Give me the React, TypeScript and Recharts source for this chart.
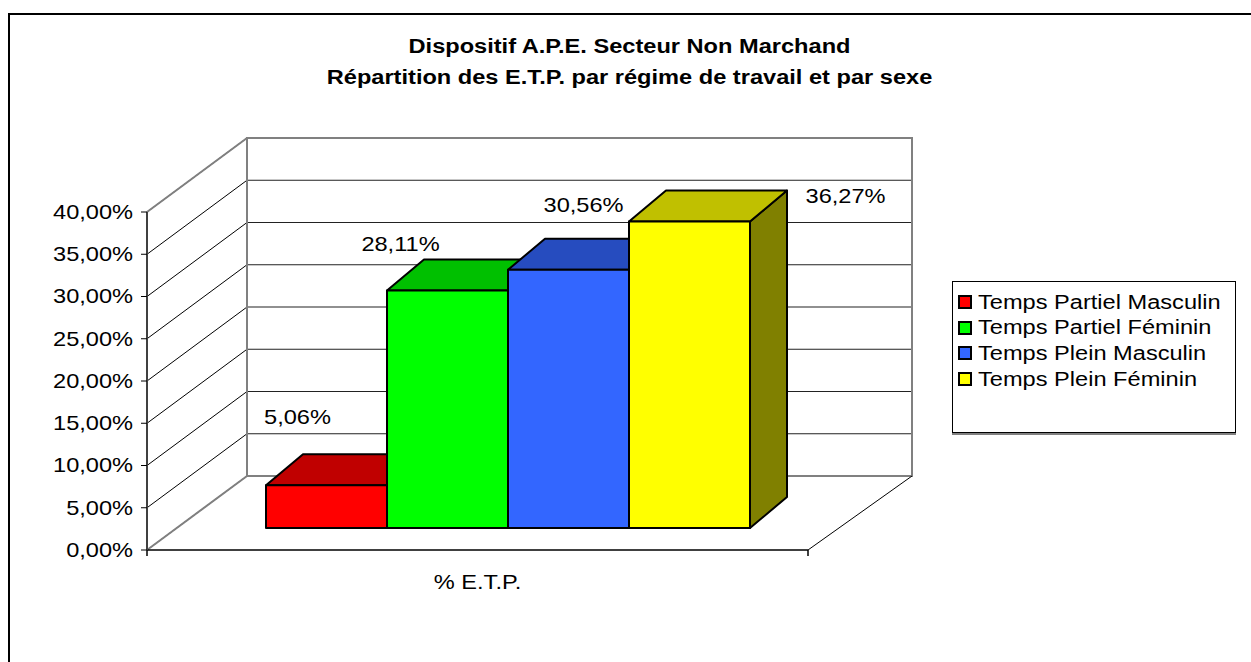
import React from 'react';
import { BarChart, Bar, XAxis, YAxis, CartesianGrid, ReferenceArea, LabelList } from 'recharts';

// data
const categories = ['% E.T.P.'];
const seriesKeys = ['tpm', 'tpf', 'tplm', 'tplf'];
const seriesNames = ['Temps Partiel Masculin', 'Temps Partiel Féminin', 'Temps Plein Masculin', 'Temps Plein Féminin'];
const seriesValues = [5.06, 28.11, 30.56, 36.27];
const yTicks = [0, 5, 10, 15, 20, 25, 30, 35, 40];

// styles
const frontColors = ['#FF0000', '#00FF00', '#3366FF', '#FFFF00'];
const topColors = ['#C00000', '#00C000', '#264CBF', '#C0C000'];
const sideColors = ['#800000', '#008000', '#1A3380', '#808000'];
// where Excel put the value labels, relative to the top centre of each bar's front face
const labelOffsets = [[-29, -68], [-47, -46], [15, -65], [156, -25]];

const FONT = '"Liberation Sans", Arial, sans-serif';
const FS = 20;
const SX = 1.18; // the original text is stretched horizontally
const WALL_DX = 100; // depth of the side wall
const WALL_DY = 74;
const WALL_EXTRA = 4;
const BAR_OX = 30; // bars stand a bit inside the floor
const BAR_OY = 22;
const BAR_DX = 37; // depth of the bar boxes
const BAR_DY = 31;

const data = categories.map((name) => {
  const row: Record<string, string | number> = { name };
  seriesKeys.forEach((k, i) => (row[k] = seriesValues[i]));
  return row;
});

const pct = (v: number) => v.toFixed(2).replace('.', ',') + '%';

function SText({ x, y, anchor, children, weight }: any) {
  return (
    <text
      transform={`translate(${x} ${y}) scale(${SX} 1)`}
      textAnchor={anchor}
      dominantBaseline="central"
      fontFamily={FONT}
      fontSize={FS}
      fontWeight={weight || 'normal'}
      fill="#000"
    >
      {children}
    </text>
  );
}

const YTick = (p: any) => (
  <SText x={p.x} y={p.y} anchor="end">{pct(p.payload.value)}</SText>
);

const XTick = (p: any) => (
  <SText x={p.x} y={p.y + 24} anchor="middle">{p.payload.value}</SText>
);

// side wall diagonals + back wall grid lines, one per y tick
const gridLine = (p: any) => {
  const { x1, y1, x2 } = p;
  return (
    <g key={p.key}>
      <line x1={x1} y1={y1} x2={x1 + WALL_DX} y2={y1 - WALL_DY} stroke="#000" strokeWidth={1} />
      <line x1={x1 + WALL_DX} y1={y1 - WALL_DY} x2={x2 + WALL_DX + WALL_EXTRA} y2={y1 - WALL_DY} stroke="#222" strokeWidth={1.2} />
    </g>
  );
};

// wall outlines and floor, from the plot rectangle
const Walls = (p: any) => {
  const { x, y, width: w, height: h } = p;
  const bx = x + WALL_DX;
  const by = y - WALL_DY;
  const bw = w + WALL_EXTRA;
  return (
    <g>
      <line x1={x} y1={y} x2={bx} y2={by} stroke="#808080" strokeWidth={2} />
      <line x1={x} y1={y + h} x2={bx} y2={by + h} stroke="#808080" strokeWidth={2} />
      <rect x={bx} y={by} width={bw} height={h} fill="none" stroke="#808080" strokeWidth={2} />
      <line x1={x + w} y1={y + h} x2={bx + bw} y2={by + h} stroke="#000" strokeWidth={1} />
      <line x1={x} y1={y + h} x2={x} y2={y + h + 6} stroke="#404040" strokeWidth={2} />
      <line x1={x + w} y1={y + h} x2={x + w} y2={y + h + 6} stroke="#000" strokeWidth={1.5} />
    </g>
  );
};

function makeBox(i: number) {
  return (p: any) => {
    const { x, y, width: w, height: h } = p;
    if (w == null || h == null) return <g />;
    const fx = x + BAR_OX;
    const fy = y - BAR_OY;
    const top = `${fx},${fy} ${fx + BAR_DX},${fy - BAR_DY} ${fx + w + BAR_DX},${fy - BAR_DY} ${fx + w},${fy}`;
    const side = `${fx + w},${fy} ${fx + w + BAR_DX},${fy - BAR_DY} ${fx + w + BAR_DX},${fy + h - BAR_DY} ${fx + w},${fy + h}`;
    return (
      <g stroke="#000" strokeWidth={2} strokeLinejoin="round">
        <polygon points={side} fill={sideColors[i]} />
        <polygon points={top} fill={topColors[i]} />
        <rect x={fx} y={fy} width={w} height={h} fill={frontColors[i]} />
      </g>
    );
  };
}

function makeLabel(i: number) {
  return (p: any) => {
    const { x, y, width: w, value } = p;
    if (x == null) return null;
    const cx = x + w / 2 + BAR_OX + labelOffsets[i][0];
    const cy = y - BAR_OY + labelOffsets[i][1];
    return <SText x={cx} y={cy} anchor="middle">{pct(Number(value))}</SText>;
  };
}

export default function App() {
  return (
    <div style={{ position: 'absolute', left: 0, top: 0, width: 1251, height: 662, background: '#fff', fontFamily: FONT }}>
      <div style={{ position: 'absolute', left: 8, top: 13, width: 1243, height: 649, borderLeft: '2px solid #000', borderTop: '2px solid #000', boxSizing: 'border-box' }} />
      <div
        style={{
          position: 'absolute', left: 0, top: 31, width: 1259, textAlign: 'center',
          fontSize: FS, lineHeight: '31px', fontWeight: 'bold', transform: `scaleX(${SX})`, transformOrigin: '629.5px 0',
        }}
      >
        <div>Dispositif A.P.E. Secteur Non Marchand</div>
        <div>Répartition des E.T.P. par régime de travail et par sexe</div>
      </div>
      <div style={{ position: 'absolute', left: 0, top: 0 }}>
        <BarChart
          width={1251}
          height={662}
          data={data}
          margin={{ top: 212, right: 443, bottom: 72, left: 67 }}
          barGap={0}
          barSize={121}
        >
          <ReferenceArea y1={0} y2={40} shape={Walls} fill="none" stroke="none" />
          <CartesianGrid vertical={false} horizontal={gridLine} />
          <XAxis
            dataKey="name"
            height={40}
            tickLine={false}
            axisLine={{ stroke: '#000', strokeWidth: 1.5 }}
            tick={XTick}
          />
          <YAxis
            type="number"
            domain={[0, 40]}
            ticks={yTicks}
            interval={0}
            width={80}
            tickSize={6}
            tickMargin={8}
            axisLine={{ stroke: '#404040', strokeWidth: 2 }}
            tickLine={{ stroke: '#000', strokeWidth: 1 }}
            tick={YTick}
          />
          {seriesKeys.map((k, i) => (
            <Bar key={k} dataKey={k} name={seriesNames[i]} fill={frontColors[i]} shape={makeBox(i)} isAnimationActive={false}>
              <LabelList dataKey={k} content={makeLabel(i)} />
            </Bar>
          ))}
        </BarChart>
      </div>
      <div
        style={{
          position: 'absolute', left: 952, top: 281, width: 284, height: 152, boxSizing: 'border-box',
          border: '1px solid #000', boxShadow: '0 2px 0 #808080', background: '#fff',
        }}
      >
        {seriesNames.map((n, i) => (
          <div key={n} style={{ position: 'absolute', left: 5, top: 8 + i * 25.7, height: 24, display: 'flex', alignItems: 'center' }}>
            <div style={{ width: 14, height: 14, boxSizing: 'border-box', border: '2px solid #000', background: frontColors[i] }} />
            <div style={{ marginLeft: 6, fontSize: FS, whiteSpace: 'nowrap', transform: `scaleX(${SX})`, transformOrigin: '0 50%' }}>{n}</div>
          </div>
        ))}
      </div>
    </div>
  );
}
